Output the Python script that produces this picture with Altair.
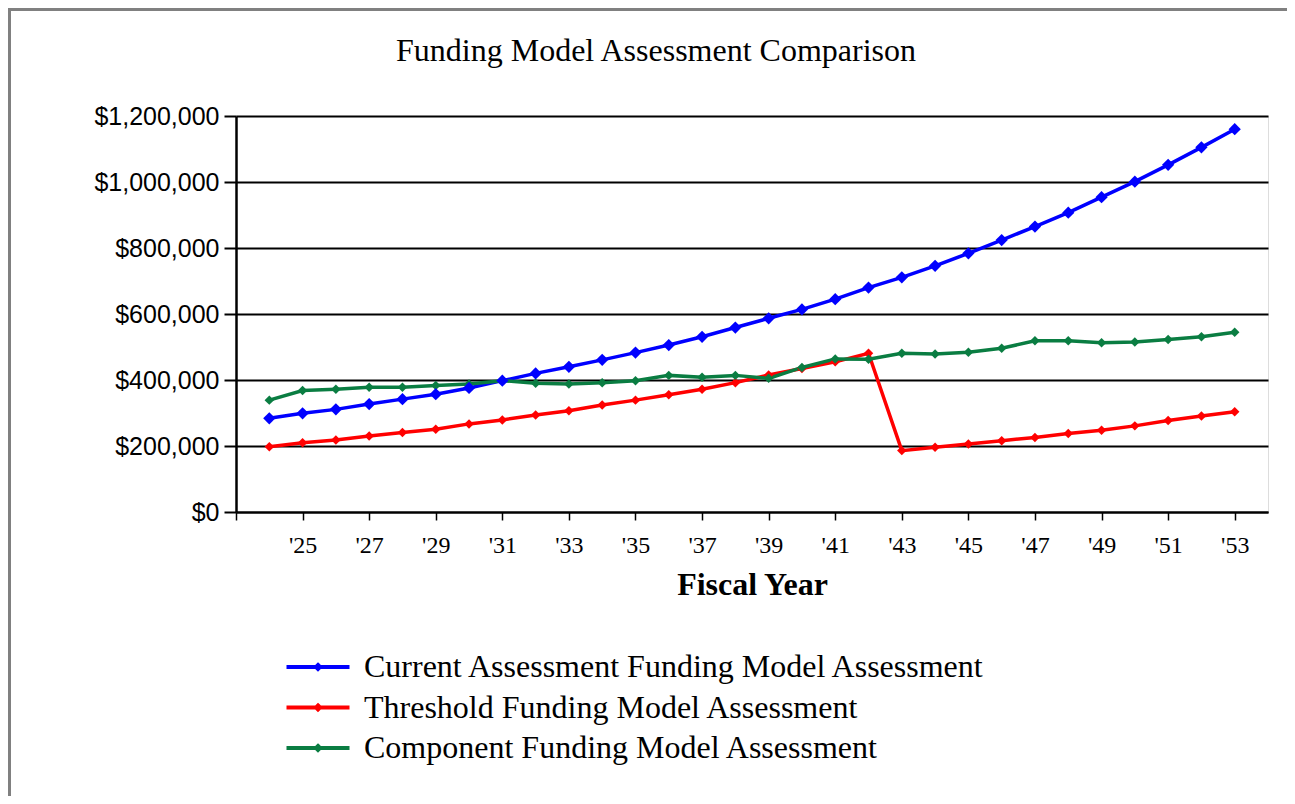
import altair as alt
import pandas as pd

years = [2024, 2025, 2026, 2027, 2028, 2029, 2030, 2031, 2032, 2033,
         2034, 2035, 2036, 2037, 2038, 2039, 2040, 2041, 2042, 2043,
         2044, 2045, 2046, 2047, 2048, 2049, 2050, 2051, 2052, 2053]

current = [284000, 299000, 311000, 327000, 342000, 357000, 376000, 398000, 420000, 440000,
           461000, 483000, 506000, 531000, 559000, 587000, 614000, 645000, 680000, 711000,
           746000, 784000, 824000, 865000, 907000, 954000, 1001000, 1052000, 1105000, 1160000]

threshold = [198000, 210000, 218000, 230000, 241000, 251000, 267000, 279000, 294000, 307000,
             324000, 339000, 355000, 372000, 392000, 415000, 435000, 455000, 481000, 186000,
             196000, 206000, 216000, 226000, 238000, 248000, 261000, 277000, 291000, 304000]

component = [339000, 368000, 372000, 378000, 378000, 383000, 388000, 398000, 390000, 388000,
             392000, 398000, 414000, 408000, 414000, 405000, 438000, 464000, 463000, 481000,
             479000, 484000, 496000, 519000, 519000, 513000, 515000, 523000, 531000, 545000]

series_names = ["Current Assessment Funding Model Assessment",
                "Threshold Funding Model Assessment",
                "Component Funding Model Assessment"]
series_colors = ["#0000FF", "#FF0000", "#0A7D42"]

chart_title = "Funding Model Assessment Comparison"
y_ticks = [0, 200000, 400000, 600000, 800000, 1000000, 1200000]
x_ticks = list(range(2023, 2055))

rows = []
for name, vals in zip(series_names, [current, threshold, component]):
    for yr, v in zip(years, vals):
        rows.append({"year": yr, "value": v, "series": name})
df = pd.DataFrame(rows)

# legend glyph: a long line with a small diamond in the middle (unit coords, scaled by symbol size)
legend_glyph = "M-6.3,0H6.3M0,-0.4L0.4,0L0,0.4L-0.4,0Z"

x_enc = alt.X("year:Q",
              scale=alt.Scale(domain=[2023, 2054], nice=False, zero=False),
              axis=alt.Axis(values=x_ticks, title="Fiscal Year",
                            labelExpr="datum.value % 2 == 1 && datum.value > 2024 && datum.value < 2054 ? \"'\" + substring(toString(datum.value), 2, 4) : ''",
                            grid=False, tickSize=8, tickColor="black", tickWidth=1.5,
                            domainColor="black", domainWidth=2,
                            labelFont="Liberation Serif", labelFontSize=24, labelColor="black",
                            labelPadding=13, labelFlush=False, labelOverlap=False,
                            titleFont="Liberation Serif", titleFontSize=32, titleFontWeight="bold",
                            titleColor="black", titlePadding=12))
y_enc = alt.Y("value:Q",
              scale=alt.Scale(domain=[0, 1200000], nice=False),
              axis=alt.Axis(values=y_ticks, title=None, format="$,.0f",
                            grid=True, gridColor="black", gridWidth=2, gridOpacity=1,
                            tickSize=12, tickColor="black", tickWidth=2,
                            domainColor="black", domainWidth=2.5,
                            labelFont="Liberation Sans", labelFontSize=25, labelColor="black",
                            labelPadding=5))
color_scale = alt.Scale(domain=series_names, range=series_colors)
color_enc = alt.Color("series:N", scale=color_scale,
                      legend=alt.Legend(title=None, orient="none", legendX=66, legendY=535,
                                        symbolType=legend_glyph, symbolSize=100, symbolStrokeWidth=4,
                                        rowPadding=8.5, labelOffset=30,
                                        labelFont="Liberation Serif", labelFontSize=32,
                                        labelColor="black", labelLimit=0))

lines = alt.Chart(df).mark_line(strokeWidth=3.5).encode(
    x=x_enc, y=y_enc, color=color_enc,
    order=alt.Order("year:Q"))
points_big = alt.Chart(df).transform_filter(
    alt.datum.series == series_names[0]
).mark_point(shape="diamond", filled=True, opacity=1, size=150).encode(
    x="year:Q", y="value:Q",
    color=alt.Color("series:N", scale=color_scale, legend=None))
points_small = alt.Chart(df).transform_filter(
    alt.datum.series != series_names[0]
).mark_point(shape="diamond", filled=True, opacity=1, size=90).encode(
    x="year:Q", y="value:Q",
    color=alt.Color("series:N", scale=color_scale, legend=None))

deco = pd.DataFrame({"k": [0]})
frame_top = alt.Chart(deco).mark_rule(color="#808080", strokeWidth=4).encode(
    x=alt.value(-230), x2=alt.value(1070), y=alt.value(-107))
frame_left = alt.Chart(deco).mark_rule(color="#808080", strokeWidth=4).encode(
    x=alt.value(-227), y=alt.value(-109), y2=alt.value(700))
title_text = alt.Chart(deco).mark_text(
    text=chart_title, font="Liberation Serif", fontSize=32, color="black",
    align="center", baseline="alphabetic").encode(
    x=alt.value(420), y=alt.value(-55))

chart = alt.layer(frame_top, frame_left, title_text, lines, points_small, points_big).properties(
    width=1032, height=396,
    autosize=alt.AutoSizeParams(type="none"),
    padding={"left": 228, "top": 108, "right": 19, "bottom": 284},
).configure_view(stroke=None).configure(background="white")

chart.save("out.html", embed_options={"renderer": "svg", "actions": False})
